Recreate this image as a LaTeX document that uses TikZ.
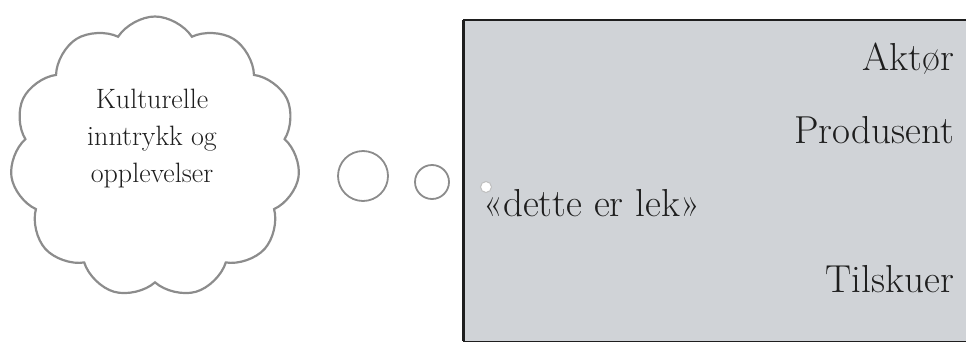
\documentclass[tikz,border=0pt]{standalone}
\usetikzlibrary{shapes, positioning}
\definecolor{cloudgrey}{RGB}{140,140,140}
\definecolor{boxgrey}{RGB}{208,211,215}
\definecolor{inkdark}{RGB}{30,30,30}
\begin{document}
\begin{tikzpicture}[x=1pt, y=-1pt,
    bubble/.style={circle, draw=cloudgrey, line width=1.8pt, fill=white, inner sep=0pt},
    role/.style={anchor=base east, inner sep=0pt, font=\fontsize{39}{46}\selectfont, text=inkdark}
  ]
  \useasboundingbox (0,0) rectangle (966,343);

  % Cloud
  \node[cloud, draw=cloudgrey, line width=2.2pt, cloud puffs=11, cloud puff arc=115,
        aspect=1.03, minimum width=290pt, minimum height=281pt, inner sep=0pt]
        (cloud) at (155,157) {};
  \node[anchor=base, align=center, font=\fontsize{28}{37}\selectfont, text=inkdark]
        (culture) at (152,182) {Kulturelle\\inntrykk og\\opplevelser};

  % Thought bubbles
  \node[bubble, minimum size=50pt] (b1) at (363,176) {};
  \node[bubble, minimum size=34pt] (b2) at (432,182) {};

  % Play frame
  \node[fill=boxgrey, minimum width=503pt, minimum height=321pt, inner sep=0pt,
        anchor=north west] (frame) at (463,20) {};
  \draw[inkdark, line width=1.6pt] (frame.north west) -- (frame.north east);
  \draw[inkdark, line width=1.6pt] (frame.south west) -- (frame.south east);
  \draw[inkdark, line width=3pt] (frame.north west) -- (frame.south west);
  \node[bubble, minimum size=11pt, line width=1pt, draw=gray!50] (b3) at (486,187) {};

  % Roles
  \node[role] (actor) at (954,70) {Aktør};
  \node[role] (producer) at (954,143) {Produsent};
  \node[role] (viewer) at (954,292) {Tilskuer};
  \node[role, anchor=base west] (play) at (483,216) {«dette er lek»};
\end{tikzpicture}
\end{document}
